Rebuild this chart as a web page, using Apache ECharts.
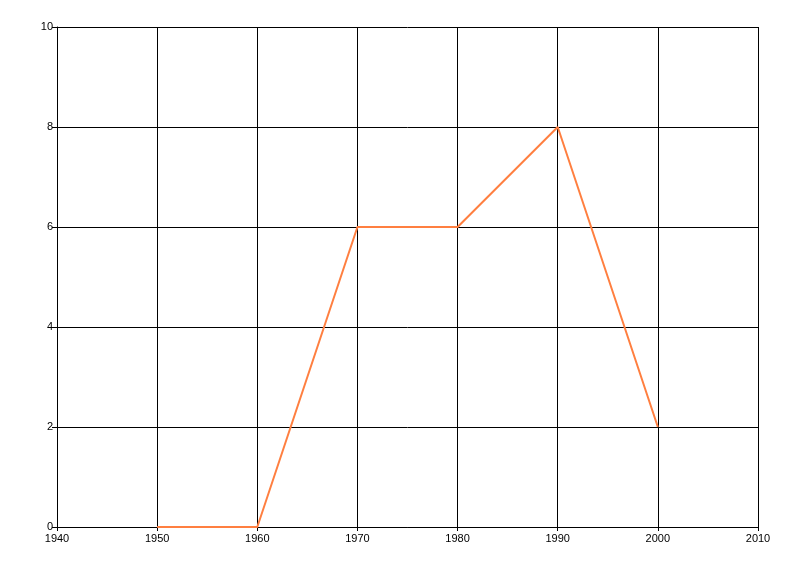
<!DOCTYPE html>
<html><head><meta charset="utf-8">
<script src="https://cdn.jsdelivr.net/npm/echarts@6/dist/echarts.min.js"></script>
<style>html,body{margin:0;padding:0;background:#fff}#c{width:800px;height:576px}</style>
</head><body><div id="c"></div>
<script>
var years = [1950, 1960, 1970, 1980, 1990, 2000];
var values = [0, 0, 6, 6, 8, 2];
var xMin = 1940, xMax = 2010, xStep = 10;
var yMin = 0, yMax = 10, yStep = 2;

var chart = echarts.init(document.getElementById('c'), null, {renderer: 'canvas'});
var lineStyleGrid = {color: '#000', width: 1};
chart.setOption({
  animation: false,
  backgroundColor: '#fff',
  grid: {left: 57, right: 42, top: 27, bottom: 49, containLabel: false},
  xAxis: {
    type: 'value', min: xMin, max: xMax, interval: xStep,
    axisLine: {show: true, lineStyle: lineStyleGrid},
    axisTick: {show: true, length: 4, lineStyle: lineStyleGrid},
    splitLine: {show: true, lineStyle: lineStyleGrid},
    axisLabel: {color: '#000', fontSize: 11, fontFamily: 'Liberation Sans', margin: 6,
      formatter: function(v){ return String(v); }}
  },
  yAxis: {
    type: 'value', min: yMin, max: yMax, interval: yStep,
    axisLine: {show: true, lineStyle: lineStyleGrid},
    axisTick: {show: true, length: 5, lineStyle: lineStyleGrid},
    splitLine: {show: true, lineStyle: lineStyleGrid},
    axisLabel: {color: '#000', fontSize: 11, fontFamily: 'Liberation Sans', margin: 4}
  },
  series: [{
    type: 'line',
    data: years.map(function(y, i){ return [y, values[i]]; }),
    showSymbol: false,
    symbol: 'none',
    lineStyle: {color: '#FF7F40', width: 2},
    itemStyle: {color: '#FF7F40'}
  }]
});
</script></body></html>
